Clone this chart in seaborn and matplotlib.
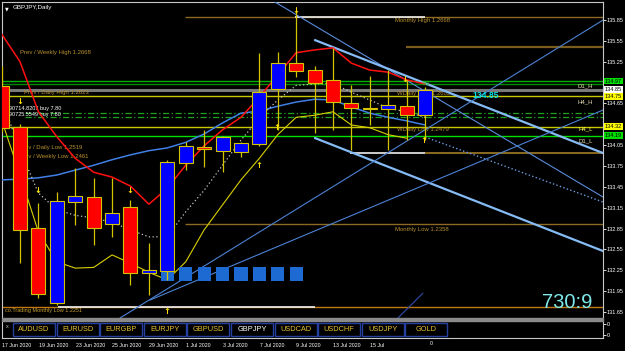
import numpy as np
import pandas as pd
import matplotlib
matplotlib.use("Agg")
import matplotlib.pyplot as plt
import matplotlib.transforms as mtransforms
from matplotlib.patches import Rectangle
import seaborn as sns

# ---------------- data ----------------
dates = ["17 Jun", "18 Jun", "19 Jun", "22 Jun", "23 Jun", "24 Jun", "25 Jun", "26 Jun",
         "29 Jun", "30 Jun", "1 Jul", "2 Jul", "3 Jul", "6 Jul", "7 Jul", "8 Jul",
         "9 Jul", "10 Jul", "13 Jul", "14 Jul", "15 Jul", "16 Jul", "17 Jul", "20 Jul"]
opens = [134.90, 134.31, 132.86, 131.78, 133.23, 133.30, 132.92, 133.16, 132.21, 132.24,
         133.79, 134.02, 133.97, 133.95, 134.07, 134.86, 135.23, 135.13, 134.99, 134.66,
         134.58, 134.57, 134.61, 134.48]
highs = [135.19, 134.35, 133.22, 133.38, 133.72, 133.58, 133.58, 133.26, 132.64, 133.84,
         134.10, 134.27, 134.18, 134.09, 135.38, 135.39, 135.99, 135.19, 135.45, 134.92,
         135.04, 135.13, 134.99, 134.89]
lows = [134.24, 132.35, 131.85, 131.75, 132.90, 132.61, 132.73, 132.04, 131.89, 132.11,
        133.69, 133.74, 133.66, 133.88, 134.04, 134.27, 135.03, 134.22, 134.27, 133.98,
        134.34, 133.98, 134.12, 134.12]
closes = [134.30, 132.83, 131.91, 133.25, 133.32, 132.86, 133.07, 132.21, 132.25, 133.81,
          134.04, 133.99, 134.17, 134.08, 134.81, 135.23, 135.12, 134.94, 134.67, 134.58,
          134.57, 134.63, 134.48, 134.84]

red_ma = [135.65, 135.25, 134.53, 134.17, 133.86, 133.66, 133.59, 133.46, 133.20, 133.43,
          133.76, 134.04, 134.27, 134.45, 134.74, 135.06, 135.38, 135.42, 135.45, 135.23,
          135.13, 135.10, 134.99, 134.93]
blue_ma = [133.55, 133.56, 133.58, 133.62, 133.69, 133.76, 133.84, 133.91, 133.97, 134.01,
           134.09, 134.21, 134.37, 134.51, 134.54, 134.61, 134.67, 134.71, 134.70, 134.60,
           134.51, 134.45, 134.40, 134.34]
dot_ma = [134.70, 133.98, 133.36, 133.12, 133.04, 133.00, 132.94, 132.83, 132.73, 132.73,
          133.09, 133.40, 133.76, 134.12, 134.44, 134.70, 134.91, 134.93, 134.94, 134.81,
          134.70, 134.58, 134.53, 134.45]
yellow_line = [134.41, 133.62, 132.80, 132.37, 132.28, 132.29, 132.47, 132.35, 132.22, 132.11,
               132.37, 132.83, 133.19, 133.55, 133.86, 134.20, 134.45, 134.48, 134.53, 134.34,
               134.30, 134.20, 134.15]

# horizontal levels: price, first bar
level_prices = [135.89, 135.46, 134.97, 134.93, 134.85, 134.76, 134.31, 134.18, 133.94, 132.91, 131.72]
level_from = [9.96, 21.97, -0.5, -0.5, -0.5, -0.5, -0.5, -0.5, 23.0, 9.96, -0.5]
white_prices = [135.89, 133.94, 131.72]
white_from = [15.94, 18.92, 3.06]
white_to = [23.0, 23.0, 17.02]
dash_prices = [134.51, 134.45]

# trend lines: (bar, price) -> (bar, price)
trend_x0 = [14.85, 17.02, 17.02, 23.0, 6.43, 8.06, 21.53]
trend_y0 = [136.109, 135.562, 134.152, 134.167, 131.562, 131.82, 131.562]
trend_x1 = [32.67, 32.67, 32.67, 32.67, 32.67, 32.67, 22.89]
trend_y1 = [133.303, 133.936, 132.526, 133.231, 135.85, 134.555, 131.92]

square_bars = [9, 10, 11, 12, 13, 14, 15, 16]
square_price = 132.195

down_arrow_x = [1.0, 1.98, 6.97, 15.99, 21.91]
down_arrow_y = [134.68, 133.40, 133.40, 135.99, 135.0]
up_arrow_x = [14.96, 13.98, 22.94, 8.98]
up_arrow_y = [134.30, 133.76, 134.12, 131.66]

axis_ticks = [135.85, 135.55, 135.25, 134.65, 134.05, 133.75, 133.45, 133.15,
              132.85, 132.55, 132.25, 131.95, 131.65]
box_prices = [134.97, 134.85, 134.75, 134.32, 134.19]
box_labels = ["134.97", "134.85", "134.75", "134.32", "134.19"]

date_tick_bars = [0, 2, 4, 6, 8, 10, 12, 14, 16, 18, 20, 22]
date_tick_labels = ["17 Jun 2020", "19 Jun 2020", "23 Jun 2020", "25 Jun 2020", "29 Jun 2020",
                    "1 Jul 2020", "3 Jul 2020", "7 Jul 2020", "9 Jul 2020", "13 Jul 2020",
                    "15 Jul", ""]
buttons = ["AUDUSD", "EURUSD", "EURGBP", "EURJPY", "GBPUSD", "GBPJPY",
           "USDCAD", "USDCHF", "USDJPY", "GOLD"]

# ---------------- style ----------------
sns.set_theme(style="dark")
plt.rcParams["font.family"] = ["Liberation Sans", "DejaVu Sans"]

W, H = 625, 351
fig = plt.figure(figsize=(W / 100, H / 100), dpi=100, facecolor="black")

def fx(px):
    return px / W

def fy(py):
    return 1 - py / H

ax = fig.add_axes([fx(2), fy(318), fx(601), (318 - 2) / H])
ax.set_facecolor("black")
XMIN, XMAX = 0.02, 32.67
YMIN, YMAX = 131.562, 136.11
ax.set_xlim(XMIN, XMAX)
ax.set_ylim(YMIN, YMAX)
ax.grid(False)
for s in ax.spines.values():
    s.set_color("#C8C8C8")
    s.set_linewidth(0.8)
ax.spines["bottom"].set_visible(False)

bars = np.arange(len(opens))

# levels
level_colors = ["#8C6A22", "#7A5C1E", "#00B400", "#008C00", "#7A7A7A", "#C8C800",
                "#C8C800", "#00E000", "#8C6A22", "#8C6A22", "#C07A10"]
level_widths = [1.0, 1.6, 1.0, 1.0, 2.2, 1.0, 1.0, 1.0, 1.4, 1.0, 1.0]
for p, x0, c, lw in zip(level_prices, level_from, level_colors, level_widths):
    ax.hlines(p, x0, XMAX, colors=c, lw=lw, zorder=1)
for p, x0, x1 in zip(white_prices, white_from, white_to):
    ax.hlines(p, x0, x1, colors="#F0F0F0", lw=1.2, zorder=1.2)
for p in dash_prices:
    ax.hlines(p, 1.27, XMAX, colors="#1FA01F", lw=0.9, linestyles=(0, (5, 2, 1, 2)), zorder=1)

# level texts
tcol = "#B8902E"
ax.text(1.0, 135.39, "Prev / Weekly High 1.2668", color=tcol, fontsize=4.3, va="center", zorder=2)
ax.text(1.22, 134.81, "Prev / Daily High 1.2623", color=tcol, fontsize=4.3, va="center", zorder=2)
ax.text(0.95, 134.02, "Prev / Daily Low 1.2519", color=tcol, fontsize=4.3, va="center", zorder=2)
ax.text(0.95, 133.88, "Prev / Weekly Low 1.2461", color=tcol, fontsize=4.3, va="center", zorder=2)
ax.text(21.37, 135.85, "Monthly High 1.2668", color=tcol, fontsize=4.3, va="center", zorder=2)
ax.text(21.37, 132.84, "Monthly Low 1.2358", color=tcol, fontsize=4.3, va="center", zorder=2)
ax.text(21.48, 134.80, "WDaily High 1.2605", color=tcol, fontsize=4.3, va="center", zorder=2)
ax.text(21.48, 134.27, "WDaily Low 1.2479", color=tcol, fontsize=4.3, va="center", zorder=2)
ax.text(0.18, 131.67, "co.Trading Monthly Low 1.2251", color="#C8A030", fontsize=4.0, va="center", zorder=2)
ax.text(0.40, 134.575, "90714.8207 buy 7.80", color="white", fontsize=4.0, va="center", zorder=2)
ax.text(0.40, 134.485, "90725.5549 buy 7.80", color="white", fontsize=4.0, va="center", zorder=2)

# trend lines
t_colors = ["#5A8CDC", "#86BBF5", "#86BBF5", "#6A9BE0", "#4C82D4", "#4C82D4", "#2E4FA8"]
t_widths = [0.8, 1.6, 1.6, 1.0, 0.8, 0.8, 0.8]
t_styles = ["-", "-", "-", ":", "-", "-", "-"]
for x0, y0, x1, y1, c, lw, ls in zip(trend_x0, trend_y0, trend_x1, trend_y1, t_colors, t_widths, t_styles):
    ax.plot([x0, x1], [y0, y1], color=c, lw=lw, ls=ls, zorder=3)

# indicator lines via seaborn
df = pd.DataFrame({"bar": bars, "red": red_ma, "blue": blue_ma, "dot": dot_ma})
sns.lineplot(data=df, x="bar", y="blue", ax=ax, color="#3F7FE6", lw=1.1, zorder=4)
sns.lineplot(data=df, x="bar", y="dot", ax=ax, color="#C8C8C8", lw=0.9, ls=(0, (1, 2)), zorder=4)
sns.lineplot(x=bars[:len(yellow_line)], y=yellow_line, ax=ax, color="#D8D000", lw=0.8, zorder=4)
sns.lineplot(data=df, x="bar", y="red", ax=ax, color="#FF1010", lw=1.1, zorder=4)

# blue squares
ax.scatter(square_bars, [square_price] * len(square_bars), marker="s", s=90,
           color="#1C6AD2", edgecolors="none", zorder=4.5)

# candles
up = [c >= o for o, c in zip(opens, closes)]
wick_col = "#D4C400"
ax.vlines(bars, lows, highs, colors=wick_col, lw=0.9, zorder=5)
bottoms = [min(o, c) for o, c in zip(opens, closes)]
heights = [max(abs(c - o), 0.02) for o, c in zip(opens, closes)]
body_cols = ["#0000FF" if u else "#FF0000" for u in up]
ax.bar(bars, heights, bottom=bottoms, width=0.76, color=body_cols,
       edgecolor=wick_col, linewidth=0.8, zorder=6)

# arrows
for x, y in zip(down_arrow_x, down_arrow_y):
    ax.text(x, y, "\u2193", color="#FFE000", fontsize=6, fontweight="bold",
            ha="center", va="center", family="DejaVu Sans", zorder=7)
for x, y in zip(up_arrow_x, up_arrow_y):
    ax.text(x, y, "\u2191", color="#FFE000", fontsize=6, fontweight="bold",
            ha="center", va="center", family="DejaVu Sans", zorder=7)
ax.text(23.05, 134.93, "140", color="#20C020", fontsize=3.5, ha="center", va="center", zorder=7)

# big labels
ax.text(25.6, 134.77, "134.85", color="#00E0E8", fontsize=6.2, fontweight="bold",
        ha="left", va="center", zorder=7)
ax.text(29.35, 131.79, "730:9", color="#7EEAEA", fontsize=14.5, ha="left", va="center", zorder=7)

# side tags
ax.text(32.12, 134.90, "D1_H", color="#E8E0B0", fontsize=4.3, ha="right", va="center", zorder=7)
ax.text(32.12, 134.68, "H4_H", color="#E8E0B0", fontsize=4.3, ha="right", va="center", zorder=7)
ax.text(32.12, 134.28, "H4_L", color="#FFFF60", fontsize=4.3, ha="right", va="center", zorder=7)
ax.text(32.12, 134.11, "D1_L", color="#E8E0B0", fontsize=4.3, ha="right", va="center", zorder=7)

# title
ax.text(0.005, 0.985, "\u25BC", transform=ax.transAxes, color="white", fontsize=3.5,
        va="top", family="DejaVu Sans")
ax.text(0.018, 0.99, "GBPJPY,Daily", transform=ax.transAxes, color="white", fontsize=4.5, va="top")

# right axis
ax.yaxis.tick_right()
ax.set_yticks(axis_ticks)
ax.set_yticklabels([f"{t:.2f}" for t in axis_ticks])
ax.tick_params(axis="y", colors="white", labelsize=4.0, length=1.8, width=0.6, pad=1.0,
               labelcolor="white")
ax.set_xticks([])
ax.set_xlabel("")
ax.set_ylabel("")
trans = mtransforms.blended_transform_factory(ax.transAxes, ax.transData)
box_bg = ["#00E000", "#FFFFFF", "#FFFF00", "#FFFF00", "#00E000"]
for p, lab, bg in zip(box_prices, box_labels, box_bg):
    ax.text(1.003, p, lab, transform=trans, color="black", fontsize=4.0, ha="left", va="center",
            bbox=dict(boxstyle="square,pad=0.12", fc=bg, ec="none"), zorder=8, clip_on=False)

# separator bar
fig.patches.append(Rectangle((fx(2), fy(321)), fx(601), 3 / H, transform=fig.transFigure,
                             color="#8A8A8A", zorder=5))

# sub window with buttons
ax2 = fig.add_axes([fx(2), fy(338), fx(601), 17 / H])
ax2.set_facecolor("black")
ax2.set_xlim(XMIN, XMAX)
ax2.set_ylim(0, 1)
ax2.grid(False)
for s in ax2.spines.values():
    s.set_color("#C8C8C8")
    s.set_linewidth(0.8)
ax2.spines["top"].set_visible(False)
ax2.yaxis.tick_right()
ax2.set_yticks([0.82, 0.18])
ax2.set_yticklabels(["0", "0"])
ax2.tick_params(axis="y", colors="white", labelsize=4.0, length=1.8, width=0.6, pad=1.0)
ax2.set_xticks(date_tick_bars)
ax2.set_xticklabels(date_tick_labels)
ax2.tick_params(axis="x", colors="white", labelsize=3.8, length=2.5, width=0.6, pad=1)
for lab in ax2.get_xticklabels():
    lab.set_horizontalalignment("left")
ax2.text(23.27, -0.16, "0", color="white", fontsize=3.8, va="top", ha="left",
         transform=ax2.transData, clip_on=False)
ax2.text(0.006, 0.65, "x", transform=ax2.transAxes, color="#C0C0C0", fontsize=4, va="center")
bx0, bw, bstep = 11.0, 42.0, 43.6
for k, name in enumerate(buttons):
    left = (bx0 + k * bstep) / 601
    ax2.add_patch(Rectangle((left, 0.12), bw / 601, 0.78, transform=ax2.transAxes,
                            fc="black", ec="#2540A0", lw=1.0))
    ax2.text(left + bw / 1202, 0.52, name, transform=ax2.transAxes,
             color="white" if name == "GBPJPY" else "#E8C030",
             fontsize=5.3, ha="center", va="center")

fig.savefig("out.png", dpi=100, facecolor="black")
